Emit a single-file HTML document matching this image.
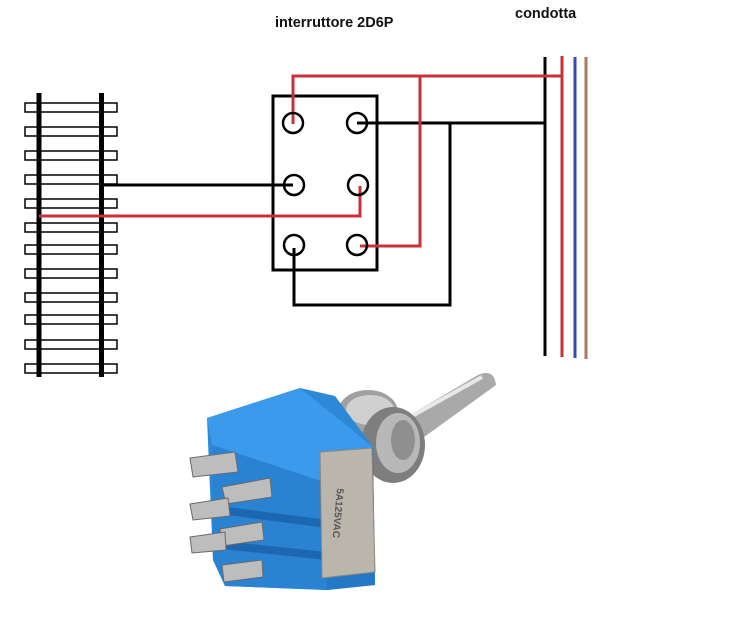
<!DOCTYPE html>
<html><head><meta charset="utf-8"><style>
html,body{margin:0;padding:0;background:#fff;}
body{width:737px;height:620px;overflow:hidden;}
svg text{font-family:"Liberation Sans","DejaVu Sans",sans-serif;font-weight:bold;}
</style></head><body>
<svg width="737" height="620" viewBox="0 0 737 620" xmlns="http://www.w3.org/2000/svg">
<text x="275" y="27" font-size="14.5" fill="#111">interruttore 2D6P</text>
<text x="515" y="18" font-size="14.5" fill="#111">condotta</text>
<g fill="#fff" stroke="#000" stroke-width="1.5">
<rect x="25" y="103" width="92" height="9"/>
<rect x="25" y="127" width="92" height="9"/>
<rect x="25" y="151" width="92" height="9"/>
<rect x="25" y="175" width="92" height="9"/>
<rect x="25" y="199" width="92" height="9"/>
<rect x="25" y="223" width="92" height="9"/>
<rect x="25" y="245" width="92" height="9"/>
<rect x="25" y="269" width="92" height="9"/>
<rect x="25" y="293" width="92" height="9"/>
<rect x="25" y="315" width="92" height="9"/>
<rect x="25" y="340" width="92" height="9"/>
<rect x="25" y="364" width="92" height="9"/>
</g>
<line x1="39" y1="93" x2="39" y2="377" stroke="#000" stroke-width="5"/>
<line x1="101.5" y1="93" x2="101.5" y2="377" stroke="#000" stroke-width="5"/>
<line x1="545" y1="57" x2="545" y2="356" stroke="#000" stroke-width="3"/>
<line x1="562" y1="56" x2="562" y2="357" stroke="#c8303a" stroke-width="3"/>
<line x1="575" y1="57" x2="575" y2="358" stroke="#3a4aa8" stroke-width="3"/>
<line x1="586" y1="57" x2="586" y2="359" stroke="#a87a5a" stroke-width="3"/>
<rect x="273" y="96" width="104" height="174" fill="none" stroke="#000" stroke-width="3"/>
<g fill="none" stroke="#000" stroke-width="3">
<polyline points="357,123 545,123"/>
<polyline points="450,123 450,305 294,305 294,248"/>
<polyline points="102,185 293,185"/>
</g>
<g fill="none" stroke="#c8303a" stroke-width="3">
<polyline points="293,124 293,76 562,76"/>
<polyline points="420,76 420,246 360,246"/>
<polyline points="39,216 360,216 360,186"/>
</g>
<g fill="none" stroke="#000" stroke-width="2.5">
<circle cx="293" cy="123" r="10"/>
<circle cx="357" cy="123" r="10"/>
<circle cx="294" cy="185" r="10"/>
<circle cx="358" cy="185" r="10"/>
<circle cx="294" cy="245" r="10"/>
<circle cx="357" cy="245" r="10"/>
</g>
<!-- toggle switch photo -->
<g>
<path d="M405,418 L478,375 Q494,368 496,385 L420,440 Z" fill="#a9a9a9"/>
<line x1="412" y1="416" x2="482" y2="377" stroke="#e8e8e8" stroke-width="4"/>
<ellipse cx="368" cy="412" rx="30" ry="22" fill="#a0a0a0"/>
<ellipse cx="370" cy="410" rx="24" ry="15" fill="#d0d0d0"/>
<ellipse cx="393" cy="445" rx="32" ry="38" fill="#7e7e7e"/>
<ellipse cx="398" cy="443" rx="22" ry="30" fill="#b8b8b8"/>
<ellipse cx="403" cy="440" rx="12" ry="20" fill="#8f8f8f"/>
<!-- blue body -->
<path d="M207,418 L300,388 L335,396 L373,447 L375,585 L327,590 L225,586 L213,560 Z" fill="#2e88d8"/>
<path d="M207,418 L300,388 L373,447 L327,483 L212,445 Z" fill="#3b9aeb"/>
<path d="M212,445 L327,483 L327,590 L225,586 L213,560 Z" fill="#2a82d2"/>
<path d="M212,505 L327,520 L327,528 L212,513 Z" fill="#1d66b0"/>
<path d="M212,540 L327,552 L327,560 L212,548 Z" fill="#1d66b0"/>
<path d="M327,483 L373,447 L375,585 L327,590 Z" fill="#2478c6"/>
<path d="M320,452 L372,448 L375,572 L322,578 Z" fill="#bab6ac" stroke="#8a867c" stroke-width="1"/>
<text x="0" y="0" font-size="10" fill="#555" font-weight="normal" transform="translate(337,488) rotate(95)">5A125VAC</text>
<g fill="#bdbdbd" stroke="#6a6a6a" stroke-width="1">
<path d="M190,458 L235,452 L238,472 L193,477 Z"/>
<path d="M222,487 L270,478 L272,497 L226,504 Z"/>
<path d="M190,504 L228,498 L230,516 L193,520 Z"/>
<path d="M220,529 L262,522 L264,540 L222,546 Z"/>
<path d="M190,537 L225,532 L226,550 L192,553 Z"/>
<path d="M222,565 L262,560 L263,577 L224,582 Z"/>
</g>
</g>
</svg>
</body></html>
